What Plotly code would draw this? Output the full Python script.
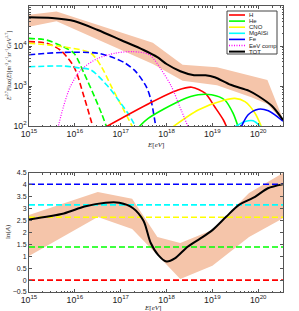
import numpy as np
import plotly.graph_objects as go

# ---------------- top panel: log10(E/eV) and log10(E^2.7 Flux) ----------------
tot_logE = [15.0, 15.5, 16.0, 16.5, 17.0, 17.5, 17.8, 18.0, 18.3, 18.6, 18.85, 19.05, 19.4, 19.8, 20.0, 20.3, 20.54]
tot_logF = [4.72, 4.70, 4.62, 4.40, 4.15, 3.90, 3.72, 3.55, 3.37, 3.27, 3.27, 3.22, 3.03, 2.88, 2.75, 2.50, 2.15]

band_logE = [15.0, 15.6, 17.7, 18.35, 19.1, 19.85, 20.2, 20.54]
band_hi = [4.78, 4.86, 4.08, 3.53, 3.47, 3.25, 3.15, 2.17]
band_lo = [4.48, 4.62, 3.55, 3.13, 3.02, 2.72, 2.55, 2.12]

# galactic (dashed) components
h_gal_logE = [15.0, 15.38, 15.68, 15.98, 16.2, 16.4]
h_gal_logF = [4.11, 4.07, 3.90, 3.48, 2.73, 1.95]
he_gal_logE = [15.0, 15.38, 15.75, 15.98, 16.2, 16.43, 16.58, 16.7]
he_gal_logF = [4.19, 4.15, 3.98, 3.82, 3.32, 2.73, 2.32, 1.95]
cno_gal_logE = [15.0, 15.75, 16.35, 16.58, 16.8, 17.03, 17.27]
cno_gal_logF = [4.07, 3.98, 3.82, 3.48, 2.98, 2.48, 1.95]
mg_gal_logE = [15.0, 15.75, 16.05, 16.35, 16.73, 16.95, 17.18, 17.34]
mg_gal_logF = [3.48, 3.50, 3.46, 3.40, 2.98, 2.65, 2.28, 1.95]
fe_gal_logE = [15.0, 15.75, 16.5, 16.88, 17.1, 17.33, 17.56, 17.66, 17.77]
fe_gal_logF = [3.78, 3.84, 3.82, 3.69, 3.57, 3.36, 2.98, 2.65, 1.95]

# EeV component (dotted)
eev_logE = [15.63, 15.75, 15.9, 16.13, 16.5, 16.88, 17.26, 17.63, 17.89, 18.11, 18.29, 18.48]
eev_logF = [1.95, 2.48, 2.98, 3.40, 3.69, 3.82, 3.86, 3.78, 3.40, 2.98, 2.48, 1.95]

# extragalactic (solid) components
h_ex_logE = [16.68, 17.63, 18.25, 18.55, 18.84, 19.05, 19.24, 19.32]
h_ex_logF = [1.98, 2.57, 2.90, 2.97, 2.82, 2.48, 2.15, 1.95]
he_ex_logE = [17.4, 17.6, 18.33, 18.69, 18.98, 19.27, 19.45, 19.57]
he_ex_logF = [1.98, 2.19, 2.65, 2.78, 2.78, 2.65, 2.32, 1.95]
cno_ex_logE = [18.14, 18.69, 19.27, 19.49, 19.71, 19.93, 20.08]
cno_ex_logF = [1.98, 2.40, 2.65, 2.69, 2.61, 2.32, 1.95]
mg_ex_logE = [19.48, 19.71, 19.89, 20.08]
mg_ex_logF = [1.97, 2.11, 2.13, 1.95]
fe_ex_logE = [19.63, 19.78, 20.0, 20.22, 20.54]
fe_ex_logF = [1.98, 2.28, 2.42, 2.38, 2.12]

# ---------------- bottom panel: <ln A> ----------------
lnA_logE = [15.0, 15.76, 16.21, 16.67, 16.97, 17.27, 17.5, 17.65, 17.82, 18.0, 18.18, 18.46, 18.74, 19.0, 19.3, 19.58, 19.93, 20.21, 20.54]
lnA_val = [2.55, 2.80, 3.09, 3.25, 3.25, 3.02, 2.48, 1.58, 1.05, 0.78, 0.91, 1.40, 1.75, 2.10, 2.66, 3.16, 3.50, 3.86, 4.03]

lnA_band_logE = [15.0, 16.5, 17.25, 17.8, 18.3, 19.0, 19.8, 20.54]
lnA_band_hi = [2.74, 3.70, 3.42, 1.81, 1.56, 2.10, 3.66, 4.50]
lnA_band_lo = [1.01, 2.65, 2.15, 1.05, 0.05, 0.60, 1.81, 2.60]

species = ["H", "He", "CNO", "MgAlSi", "Fe"]
species_colors = ["#ff0000", "#00ff00", "#ffff00", "#00ffff", "#0000ff"]
species_lnA = [0.0, 1.39, 2.64, 3.16, 4.03]

legend_names = species + ["EeV comp", "TOT"]
legend_colors = species_colors + ["#ff00ff", "#000000"]
legend_dash = ["solid"] * 5 + ["1px,1.5px", "solid"]

band_color = "rgb(245,197,170)"
DASH = "6px,3px"


def p10(a):
    return np.power(10.0, np.asarray(a, dtype=float))


fig = go.Figure()

# ---- top panel band
fig.add_trace(go.Scatter(
    x=p10(band_logE + band_logE[::-1]), y=p10(band_hi + band_lo[::-1]),
    fill="toself", fillcolor=band_color, line=dict(width=0), mode="lines",
    hoverinfo="skip", xaxis="x", yaxis="y"))

gal = [(h_gal_logE, h_gal_logF), (he_gal_logE, he_gal_logF), (cno_gal_logE, cno_gal_logF),
       (mg_gal_logE, mg_gal_logF), (fe_gal_logE, fe_gal_logF)]
exg = [(h_ex_logE, h_ex_logF), (he_ex_logE, he_ex_logF), (cno_ex_logE, cno_ex_logF),
       (mg_ex_logE, mg_ex_logF), (fe_ex_logE, fe_ex_logF)]

for (lx, ly), c in zip(gal, species_colors):
    fig.add_trace(go.Scatter(x=p10(lx), y=p10(ly), mode="lines",
                             line=dict(color=c, width=1.6, dash=DASH, shape="spline", smoothing=0.8),
                             xaxis="x", yaxis="y"))

for (lx, ly), c, name in zip(exg, species_colors, species):
    fig.add_trace(go.Scatter(x=p10(lx), y=p10(ly), mode="lines", name=name,
                             line=dict(color=c, width=1.6, shape="spline", smoothing=0.8),
                             xaxis="x", yaxis="y"))

fig.add_trace(go.Scatter(x=p10(eev_logE), y=p10(eev_logF), mode="lines", name="EeV comp",
                         line=dict(color="#ff00ff", width=1.2, dash="1px,1.5px", shape="spline", smoothing=0.8),
                         xaxis="x", yaxis="y"))

fig.add_trace(go.Scatter(x=p10(tot_logE), y=p10(tot_logF), mode="lines", name="TOT",
                         line=dict(color="black", width=2, shape="spline", smoothing=0.8),
                         xaxis="x", yaxis="y"))

# ---- bottom panel
fig.add_trace(go.Scatter(
    x=p10(lnA_band_logE + lnA_band_logE[::-1]), y=lnA_band_hi + lnA_band_lo[::-1],
    fill="toself", fillcolor=band_color, line=dict(width=0), mode="lines",
    hoverinfo="skip", xaxis="x2", yaxis="y2"))

for v, c in zip(species_lnA, species_colors):
    fig.add_trace(go.Scatter(x=p10([15.0, 20.54]), y=[v, v], mode="lines",
                             line=dict(color=c, width=1.6, dash=DASH),
                             xaxis="x2", yaxis="y2"))

fig.add_trace(go.Scatter(x=p10(lnA_logE), y=lnA_val, mode="lines",
                         line=dict(color="black", width=2, shape="spline", smoothing=0.8),
                         xaxis="x2", yaxis="y2"))

# ---- layout geometry (pixels)
W, H = 299, 311
L, R, T, B = 29, 16, 6, 19
PW, PH = W - L - R, H - T - B


def px(xp):
    return (xp - L) / PW


def py(yp):
    return (H - B - yp) / PH


FONT = "Liberation Sans"
SERIF = "Liberation Serif"
axcol = "#555555"
txtcol = "#222222"
common_x = dict(type="log", range=[15, 20.54], dtick=1, exponentformat="power",
                showgrid=False, zeroline=False, ticks="inside", ticklen=3, tickcolor=axcol,
                mirror="allticks", showline=True, linecolor=axcol, linewidth=1, automargin=False,
                tickfont=dict(size=7, family=FONT, color=txtcol),
                minor=dict(ticks="inside", ticklen=1.5, tickcolor=axcol, dtick="D1"))

shapes = []
annotations = []

# axis titles as annotations at fixed positions
for xp, yp in ((155, 144.5), (152, 307.5)):
    annotations.append(dict(text="<i>E</i>[<i>eV</i>]", xref="paper", yref="paper",
                            x=px(xp), y=py(yp), showarrow=False, xanchor="center", yanchor="middle",
                            font=dict(size=7, family=SERIF, color=txtcol)))
annotations.append(dict(text="<i>E</i><sup>2.7</sup>Flux(<i>E</i>)[<i>m</i><sup>-2</sup><i>s</i><sup>-1</sup><i>sr</i><sup>-1</sup><i>GeV</i><sup>1.7</sup>]",
                        xref="paper", yref="paper", x=px(8), y=py(66), textangle=-90,
                        showarrow=False, xanchor="center", yanchor="middle",
                        font=dict(size=6, family=SERIF, color=txtcol)))
annotations.append(dict(text="ln(<i>A</i>)", xref="paper", yref="paper", x=px(8), y=py(232),
                        textangle=-90, showarrow=False, xanchor="center", yanchor="middle",
                        font=dict(size=7, family=SERIF, color=txtcol)))

# custom legend box
lx0, lx1, ly0, ly1 = 227, 277, 11, 54
shapes.append(dict(type="rect", xref="paper", yref="paper",
                   x0=px(lx0), x1=px(lx1), y0=py(ly1), y1=py(ly0),
                   fillcolor="white", line=dict(color="#444", width=1), layer="above"))
for i, (nm, col, ds) in enumerate(zip(legend_names, legend_colors, legend_dash)):
    yy = 15 + i * 6.1
    shapes.append(dict(type="line", xref="paper", yref="paper",
                       x0=px(229), x1=px(245), y0=py(yy), y1=py(yy),
                       line=dict(color=col, width=1.6 if nm != "TOT" else 2, dash=ds), layer="above"))
    annotations.append(dict(text=nm, xref="paper", yref="paper", x=px(246.5), y=py(yy),
                            xanchor="left", yanchor="middle", showarrow=False,
                            font=dict(size=6, family=FONT, color=txtcol)))

fig.update_layout(
    width=W, height=H,
    margin=dict(l=L, r=R, t=T, b=B, autoexpand=False),
    paper_bgcolor="white", plot_bgcolor="white",
    font=dict(family=FONT, size=7, color=txtcol),
    showlegend=False,
    xaxis=dict(domain=[0, 1], anchor="y", **common_x),
    xaxis2=dict(domain=[0, 1], anchor="y2", **common_x),
    yaxis=dict(domain=[py(126), 1.0], anchor="x", type="log", range=[2, 5], dtick=1,
               exponentformat="power", showgrid=False, zeroline=False, automargin=False,
               ticks="inside", ticklen=3, tickcolor=axcol, mirror="allticks",
               showline=True, linecolor=axcol, linewidth=1,
               minor=dict(ticks="inside", ticklen=1.5, tickcolor=axcol, dtick="D1"),
               tickfont=dict(size=7, family=FONT, color=txtcol)),
    yaxis2=dict(domain=[0, py(173)], anchor="x2", range=[-0.5, 4.5], dtick=0.5,
                showgrid=False, zeroline=False, automargin=False,
                ticks="inside", ticklen=3, tickcolor=axcol, mirror="allticks",
                showline=True, linecolor=axcol, linewidth=1,
                tickfont=dict(size=7, family=FONT, color=txtcol)),
    shapes=shapes,
    annotations=annotations,
)

fig.write_html("out.html", config={"displayModeBar": False},
               post_script="document.body.style.margin='0px';")
